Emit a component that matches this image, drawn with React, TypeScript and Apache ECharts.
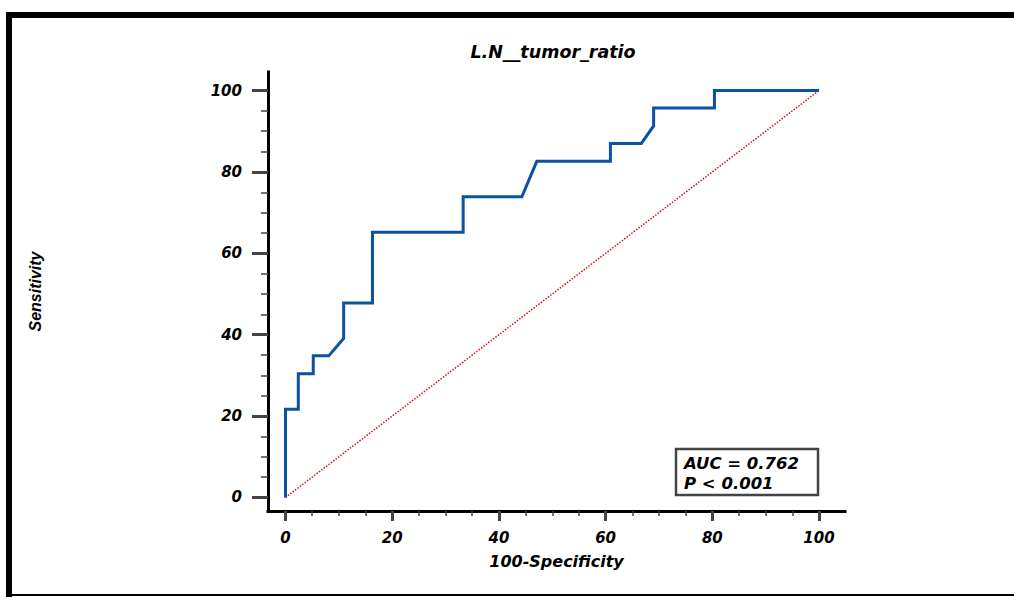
import React, { useEffect, useRef } from "react";
import * as echarts from "echarts";

// ROC curve: 100-Specificity (x) and Sensitivity (y)
const fpr = [0, 0, 2.4, 2.4, 5.2, 5.2, 8.1, 10.9, 10.9, 16.3, 16.3, 33.3, 33.3, 44.3, 47.1, 60.9, 60.9, 66.7, 69.0, 69.0, 80.4, 80.4, 100];
const sens = [0, 21.7, 21.7, 30.4, 30.4, 34.8, 34.8, 39.1, 47.8, 47.8, 65.2, 65.2, 73.9, 73.9, 82.6, 82.6, 87.0, 87.0, 91.3, 95.7, 95.7, 100, 100];
// reference diagonal
const diagX = [0, 100];
const diagY = [0, 100];
// ticks
const majorTicks = [0, 20, 40, 60, 80, 100];
const minorTicks = [5, 10, 15, 25, 30, 35, 45, 50, 55, 65, 70, 75, 85, 90, 95];
const chartTitle = "L.N__tumor_ratio";
const xName = "100-Specificity";
const yName = "Sensitivity";
const statsLines = ["AUC = 0.762", "P < 0.001"];

const FONT = '"DejaVu Sans", "Liberation Sans", sans-serif';
const XMIN = -3.28, XMAX = 104.87;
const YMIN = -3.32, YMAX = 104.55;

export default function App() {
  const ref = useRef<HTMLDivElement>(null);
  useEffect(() => {
    if (!ref.current) return;
    const chart = echarts.init(ref.current, null, { renderer: "svg" });
    const labelStyle = {
      fontFamily: FONT,
      fontWeight: "bold" as const,
      fontStyle: "italic" as const,
      fontSize: 15,
      color: "#000",
    };
    const option = {
      animation: false,
      backgroundColor: "#fff",
      grid: { left: 268, top: 72, width: 577, height: 439 },
      xAxis: [
        {
          type: "value",
          min: XMIN,
          max: XMAX,
          position: "bottom",
          axisLine: { show: true, onZero: false, lineStyle: { color: "#000", width: 3, cap: "square" } },
          axisTick: { show: true, customValues: majorTicks, length: 10, lineStyle: { color: "#444", width: 3 } },
          axisLabel: { show: true, customValues: majorTicks, margin: 19, ...labelStyle },
          splitLine: { show: false },
          name: xName,
          nameLocation: "middle",
          nameGap: 42,
          nameTextStyle: { ...labelStyle, fontSize: 16 },
        },
        {
          type: "value",
          min: XMIN,
          max: XMAX,
          position: "bottom",
          offset: 0,
          axisLine: { show: false, onZero: false },
          axisTick: { show: true, customValues: minorTicks, length: 5, lineStyle: { color: "#444", width: 1.5 } },
          axisLabel: { show: false },
          splitLine: { show: false },
        },
      ],
      yAxis: [
        {
          type: "value",
          min: YMIN,
          max: YMAX,
          position: "left",
          axisLine: { show: true, onZero: false, lineStyle: { color: "#000", width: 3, cap: "square" } },
          axisTick: { show: true, customValues: majorTicks, length: 16, lineStyle: { color: "#444", width: 3 } },
          axisLabel: { show: true, customValues: majorTicks, margin: 26, ...labelStyle },
          splitLine: { show: false },
          name: yName,
          nameLocation: "middle",
          nameGap: 225,
          nameTextStyle: {
            fontFamily: '"Liberation Sans", Arial, sans-serif',
            fontWeight: "bold",
            fontStyle: "italic",
            fontSize: 16,
            color: "#000",
          },
        },
        {
          type: "value",
          min: YMIN,
          max: YMAX,
          position: "left",
          offset: 0,
          axisLine: { show: false, onZero: false },
          axisTick: { show: true, customValues: minorTicks, length: 7, lineStyle: { color: "#444", width: 1.5 } },
          axisLabel: { show: false },
          splitLine: { show: false },
        },
      ],
      series: [
        {
          type: "line",
          xAxisIndex: 0,
          yAxisIndex: 0,
          data: diagX.map((x, i) => [x, diagY[i]]),
          symbol: "none",
          lineStyle: { color: "#c4161c", width: 1.5, type: [1.5, 1.5] },
          z: 2,
        },
        {
          type: "line",
          xAxisIndex: 0,
          yAxisIndex: 0,
          data: fpr.map((x, i) => [x, sens[i]]),
          symbol: "none",
          lineStyle: { color: "#0b52a0", width: 3, join: "miter" },
          z: 3,
        },
      ],
      graphic: [
        { type: "rect", shape: { x: 6, y: 12, width: 1008, height: 6 }, style: { fill: "#000" } },
        { type: "rect", shape: { x: 6, y: 12, width: 6, height: 585 }, style: { fill: "#000" } },
        { type: "rect", shape: { x: 6, y: 594, width: 1008, height: 2 }, style: { fill: "#000" } },
        {
          type: "text",
          x: 553,
          y: 52,
          style: {
            text: chartTitle,
            fontFamily: FONT,
            fontWeight: "bold",
            fontStyle: "italic",
            fontSize: 17.5,
            fill: "#000",
            align: "center",
            verticalAlign: "middle",
          },
        },
        {
          type: "group",
          children: [
            {
              type: "rect",
              shape: { x: 676, y: 449, width: 142, height: 46 },
              style: { fill: "#fff", stroke: "#444", lineWidth: 2.5 },
            },
            ...statsLines.map((t, i) => ({
              type: "text",
              x: 684,
              y: 463 + i * 20,
              style: {
                text: t,
                fontFamily: FONT,
                fontWeight: "bold",
                fontStyle: "italic",
                fontSize: 16.5,
                fill: "#000",
                align: "left",
                verticalAlign: "middle",
              },
            })),
          ],
        },
      ],
    };
    chart.setOption(option as any);
    return () => chart.dispose();
  }, []);
  return (
    <div
      ref={ref}
      style={{ position: "fixed", left: 0, top: 0, width: 1014, height: 597, background: "#fff" }}
    />
  );
}
